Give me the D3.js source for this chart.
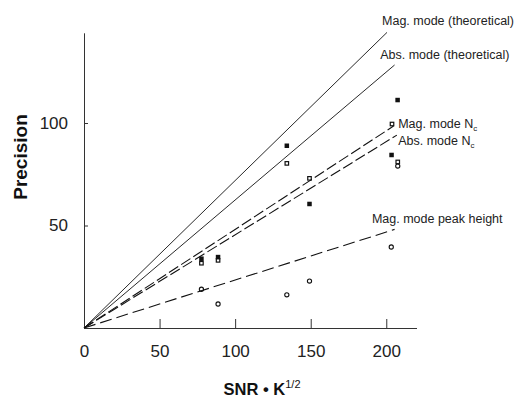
<!DOCTYPE html>
<html>
<head>
<meta charset="utf-8">
<script src="https://cdn.jsdelivr.net/npm/d3@7/dist/d3.min.js"></script>
<style>
  body { margin: 0; background: #fff; }
  svg { font-family: "Liberation Sans", Arial, sans-serif; }
</style>
</head>
<body>
<svg id="chart" width="516" height="401"></svg>
<script>
// measured points (SNR*K^1/2, precision)
let filledX = [77.7, 88.7, 134.2, 149.2, 203.5, 207.5]
let filledY = [33.8, 34.6, 88.9, 60.5, 84.4, 111.2]
let openSqX = [77.7, 88.7, 134.2, 149.2, 203.8, 207.6]
let openSqY = [31.6, 33.0, 80.3, 73.0, 99.5, 81.0]
let circleX = [77.7, 88.7, 134.2, 149.2, 203.3, 207.6]
let circleY = [18.9, 11.7, 16.2, 22.9, 39.5, 79.0]

// fitted / theoretical lines, all from origin
let lineNames = ['Mag. mode (theoretical)', 'Abs. mode (theoretical)', 'Mag. mode N', 'Abs. mode N', 'Mag. mode peak height']
let lineEndX = [200.5, 205.5, 204.8, 207, 205.5]
let lineEndY = [144.2, 128.3, 98.5, 94.1, 48.1]
let lineDash = [null, null, '11,3.5', '11,3.5', '12,5']
let labelX = [197.2, 196, 207.9, 207.9, 190.5]
let labelY = [149.9, 133.5, 99.5, 91.2, 53.2]

let xTicks = [0, 50, 100, 150, 200]
let yTicks = [50, 100]

let svg = d3.select('#chart')

let x = d3.scaleLinear().domain([0, 220]).range([84, 416.5])
let y = d3.scaleLinear().domain([0, 144]).range([328, 32.8])

// axes
let xAxis = svg.append('g')
    .attr('transform', 'translate(0,' + y(0) + ')')
    .call(d3.axisBottom(x).tickValues(xTicks).tickSizeInner(-9).tickSizeOuter(0).tickPadding(17))
let yAxis = svg.append('g')
    .attr('transform', 'translate(' + x(0) + ',0)')
    .call(d3.axisLeft(y).tickValues(yTicks).tickSizeInner(-4).tickSizeOuter(0).tickPadding(16))

svg.selectAll('.domain, .tick line').attr('stroke', '#333').attr('stroke-width', 1)
svg.selectAll('.tick text')
    .attr('font-family', '"Liberation Sans", Arial, sans-serif')
    .attr('font-size', 17)
    .attr('fill', '#222')

// lines
let lineData = lineNames.map((n, i) => ({name: n, x2: lineEndX[i], y2: lineEndY[i], dash: lineDash[i]}))
svg.selectAll('line.fit').data(lineData).enter().append('line')
    .attr('class', 'fit')
    .attr('x1', x(0)).attr('y1', y(0))
    .attr('x2', d => x(d.x2)).attr('y2', d => y(d.y2))
    .attr('stroke', '#111')
    .attr('stroke-width', d => d.dash ? 1.1 : 0.9)
    .attr('stroke-dasharray', d => d.dash)

// labels
let labels = svg.selectAll('text.lbl').data(lineData).enter().append('text')
    .attr('class', 'lbl')
    .attr('x', (d, i) => x(labelX[i]))
    .attr('y', (d, i) => y(labelY[i]))
    .attr('dy', '0.35em')
    .attr('font-size', 12.5)
    .attr('fill', '#222')
    .text(d => d.name)
labels.filter((d, i) => i == 2 || i == 3).append('tspan')
    .attr('dy', '3').attr('font-size', 8).text('c')

// markers
let sq = 4.5
svg.selectAll('rect.filled').data(filledX).enter().append('rect')
    .attr('x', (d, i) => x(d) - sq / 2).attr('y', (d, i) => y(filledY[i]) - sq / 2)
    .attr('width', sq).attr('height', sq)
    .attr('fill', '#111')
svg.selectAll('rect.open').data(openSqX).enter().append('rect')
    .attr('x', (d, i) => x(d) - sq / 2 + 0.5).attr('y', (d, i) => y(openSqY[i]) - sq / 2 + 0.5)
    .attr('width', sq - 1).attr('height', sq - 1)
    .attr('fill', 'none').attr('stroke', '#111').attr('stroke-width', 1.2)
svg.selectAll('circle.pk').data(circleX).enter().append('circle')
    .attr('cx', d => x(d)).attr('cy', (d, i) => y(circleY[i]))
    .attr('r', 2.1)
    .attr('fill', 'none').attr('stroke', '#111').attr('stroke-width', 1.1)

// axis titles
svg.append('text')
    .attr('transform', 'translate(20,157) rotate(-90)')
    .attr('text-anchor', 'middle')
    .attr('dy', '0.35em')
    .attr('font-size', 19)
    .attr('font-weight', 'bold')
    .attr('fill', '#111')
    .text('Precision')

let xt = svg.append('text')
    .attr('x', 262).attr('y', 395)
    .attr('text-anchor', 'middle')
    .attr('font-size', 16.5)
    .attr('font-weight', 'bold')
    .attr('fill', '#111')
xt.append('tspan').text('SNR \u2022 K')
xt.append('tspan').attr('dy', -7).attr('font-size', 11).attr('font-weight', 'normal').text('1/2')
</script>
</body>
</html>
